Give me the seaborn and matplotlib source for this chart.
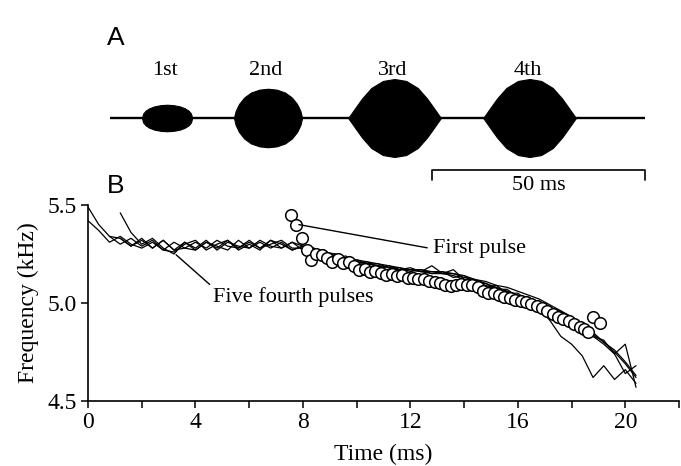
import numpy as np
import pandas as pd
import matplotlib
matplotlib.use("Agg")
import matplotlib.pyplot as plt
import seaborn as sns

# ---------------- data ----------------
# shared time grid (ms) for the five fourth pulses
T = [0.0, 0.4, 0.8, 1.2, 1.6, 2.0, 2.4, 2.8, 3.2, 3.6, 4.0, 4.4, 4.8, 5.2, 5.6,
     6.0, 6.4, 6.8, 7.2, 7.6, 8.0, 8.4, 8.8, 9.2, 9.6, 10.0, 10.4, 10.8, 11.2,
     11.6, 12.0, 12.4, 12.8, 13.2, 13.6, 14.0, 14.4, 14.8, 15.2, 15.6, 16.0,
     16.4, 16.8, 17.2, 17.6, 18.0, 18.4, 18.8, 19.2, 19.6, 20.0, 20.4]

fourth_1_start = 0
fourth_1 = [5.49, 5.40, 5.34,
            5.33, 5.29, 5.32, 5.28, 5.32, 5.27, 5.31, 5.28, 5.32, 5.27, 5.31, 5.29,
            5.28, 5.32, 5.29, 5.28, 5.31,
            5.29, 5.27, 5.26, 5.25, 5.23, 5.22, 5.21, 5.20, 5.19, 5.18, 5.17, 5.17,
            5.16, 5.16, 5.15, 5.13, 5.12, 5.10, 5.08, 5.06, 5.04, 5.02, 4.99, 4.97,
            4.94, 4.91, 4.88, 4.84, 4.80, 4.75, 4.69, 4.62]

fourth_2_start = 0
fourth_2 = [5.42, 5.37, 5.31,
            5.34, 5.30, 5.28, 5.31, 5.27, 5.31, 5.28, 5.27, 5.31, 5.28, 5.32, 5.28,
            5.31, 5.28, 5.32, 5.30, 5.27,
            5.29, 5.27, 5.26, 5.23, 5.23, 5.21, 5.20, 5.19, 5.18, 5.17, 5.17, 5.16,
            5.15, 5.15, 5.14, 5.12, 5.11, 5.09, 5.07, 5.06, 5.03, 5.01, 4.97, 4.91,
            4.83, 4.79, 4.73, 4.62, 4.68, 4.61, 4.66, 4.59]

fourth_3_start = 3
fourth_3 = [5.46, 5.36, 5.30, 5.33, 5.28, 5.25, 5.31, 5.27, 5.31, 5.29, 5.27, 5.32,
            5.28, 5.31, 5.28, 5.31, 5.27,
            5.29, 5.26, 5.27, 5.23, 5.24, 5.20, 5.21, 5.18, 5.19, 5.17, 5.18, 5.16,
            5.19, 5.15, 5.17, 5.12, 5.12, 5.08, 5.09, 5.05, 5.05, 5.01, 5.01, 4.96,
            4.96, 4.91, 4.88, 4.83, 4.81, 4.74, 4.79, 4.57]

fourth_4_start = 2
fourth_4 = [5.34, 5.30, 5.33, 5.29, 5.32, 5.27, 5.26, 5.30, 5.32, 5.27, 5.30, 5.32,
            5.27, 5.30, 5.27, 5.32, 5.28, 5.31,
            5.27, 5.28, 5.25, 5.25, 5.22, 5.22, 5.20, 5.20, 5.18, 5.18, 5.16, 5.17,
            5.15, 5.16, 5.13, 5.14, 5.10, 5.10, 5.07, 5.07, 5.03, 5.03, 4.99, 4.98,
            4.94, 4.92, 4.87, 4.83, 4.79, 4.74, 4.64, 4.68]

fourth_5_start = 3
fourth_5 = [5.33, 5.29, 5.33, 5.28, 5.32, 5.27, 5.28, 5.31, 5.28, 5.32, 5.29, 5.28,
            5.32, 5.28, 5.30, 5.32, 5.28,
            5.28, 5.28, 5.26, 5.24, 5.23, 5.21, 5.20, 5.19, 5.18, 5.17, 5.17, 5.16,
            5.16, 5.15, 5.15, 5.14, 5.12, 5.11, 5.09, 5.08, 5.06, 5.04, 5.02, 4.99,
            4.96, 4.93, 4.89, 4.85, 4.80, 4.76, 4.70, 4.63]

# first pulse (open circles)
first_t = [7.55, 7.75, 7.95, 8.15, 8.3, 8.5, 8.7, 8.9, 9.1, 9.3, 9.5, 9.7, 9.9,
           10.1, 10.3, 10.5, 10.7, 10.9, 11.1, 11.3, 11.5, 11.7, 11.9, 12.1, 12.3,
           12.5, 12.7, 12.9, 13.1, 13.3, 13.5, 13.7, 13.9, 14.1, 14.3, 14.5, 14.7,
           14.9, 15.1, 15.3, 15.5, 15.7, 15.9, 16.1, 16.3, 16.5, 16.7, 16.9, 17.1,
           17.3, 17.5, 17.7, 17.9, 18.1, 18.3, 18.45, 18.6, 18.8, 19.05]
first_f = [5.45, 5.40, 5.33, 5.27, 5.22, 5.25, 5.245, 5.23, 5.21, 5.225, 5.205,
           5.21, 5.19, 5.17, 5.175, 5.16, 5.165, 5.155, 5.145, 5.15, 5.14, 5.145,
           5.13, 5.13, 5.125, 5.12, 5.11, 5.105, 5.10, 5.09, 5.085, 5.09, 5.095,
           5.09, 5.09, 5.08, 5.06, 5.05, 5.05, 5.04, 5.03, 5.025, 5.015, 5.01,
           5.005, 4.995, 4.985, 4.975, 4.96, 4.945, 4.93, 4.92, 4.91, 4.895, 4.88,
           4.865, 4.85, 4.93, 4.90]

# panel A: pulse envelopes (time in ms, relative amplitude)
pulse_labels = ["1st", "2nd", "3rd", "4th"]
pulse_center = [13.4, 37.1, 66.8, 98.5]
pulse_halfwidth = [5.9, 8.0, 10.9, 10.9]
pulse_amp = [0.34, 0.75, 1.0, 1.0]
env_u = [-1.0, -0.95, -0.85, -0.7, -0.5, -0.25, 0.0, 0.25, 0.5, 0.7, 0.85, 0.95, 1.0]
env_shape = [
    [0.0, 0.34, 0.56, 0.74, 0.88, 0.97, 1.0, 0.97, 0.88, 0.74, 0.56, 0.34, 0.0],
    [0.0, 0.24, 0.48, 0.70, 0.87, 0.97, 1.0, 0.97, 0.87, 0.70, 0.48, 0.24, 0.0],
    [0.0, 0.08, 0.25, 0.50, 0.77, 0.95, 1.0, 0.95, 0.77, 0.50, 0.25, 0.08, 0.0],
    [0.0, 0.08, 0.25, 0.50, 0.77, 0.95, 1.0, 0.95, 0.77, 0.50, 0.25, 0.08, 0.0],
]
record_length = 125.6
scale_bar_ms = 50

# ---------------- build table ----------------
rows = []
for name, start, vals in [("p1", fourth_1_start, fourth_1),
                          ("p2", fourth_2_start, fourth_2),
                          ("p3", fourth_3_start, fourth_3),
                          ("p4", fourth_4_start, fourth_4),
                          ("p5", fourth_5_start, fourth_5)]:
    for t, f in zip(T[start:start + len(vals)], vals):
        rows.append({"pulse": name, "t": t, "f": f})
df = pd.DataFrame(rows)
df_first = pd.DataFrame({"t": first_t, "f": first_f})

# ---------------- style ----------------
sns.set_theme(style="ticks")
plt.rcParams["font.family"] = ["Liberation Serif", "DejaVu Serif"]
plt.rcParams["axes.linewidth"] = 1.2
plt.rcParams["xtick.major.width"] = 1.1
plt.rcParams["ytick.major.width"] = 1.1
plt.rcParams["xtick.color"] = "black"
plt.rcParams["ytick.color"] = "black"
plt.rcParams["xtick.labelcolor"] = "black"
plt.rcParams["ytick.labelcolor"] = "black"
plt.rcParams["axes.edgecolor"] = "black"
plt.rcParams["axes.labelcolor"] = "black"
plt.rcParams["text.color"] = "black"

W, H = 681, 466
fig = plt.figure(figsize=(W / 100, H / 100), dpi=100)

# ---------------- panel A ----------------
axA = fig.add_axes([110 / W, (H - 190) / H, 535 / W, 140 / H])
axA.set_xlim(0, record_length)
axA.set_ylim(-72 / 39, 68 / 39)
axA.axis("off")
axA.plot([0, record_length], [0, 0], color="black", lw=1.7, solid_capstyle="butt")
for lab, c, hw, a, shp in zip(pulse_labels, pulse_center, pulse_halfwidth,
                              pulse_amp, env_shape):
    u = np.linspace(-1, 1, 300)
    env = a * np.interp(u, env_u, shp)
    x = c + u * hw
    axA.fill_between(x, -env, env, color="black", lw=0.8, edgecolor="black")
    axA.text(c - 0.5, 1.23, lab, ha="center", va="center", fontsize=16)
sb0 = record_length - scale_bar_ms
axA.plot([sb0, sb0, record_length, record_length],
         [-1.59, -1.333, -1.333, -1.59], color="black", lw=1.2, clip_on=False)
axA.text(sb0 + scale_bar_ms / 2, -1.72, f"{scale_bar_ms} ms", ha="center",
         va="center", fontsize=16)

fig.text(107 / W, 1 - 38 / H, "A", ha="left", va="center", fontsize=19,
         family=["Liberation Sans", "DejaVu Sans"])
fig.text(107 / W, 1 - 186 / H, "B", ha="left", va="center", fontsize=19,
         family=["Liberation Sans", "DejaVu Sans"])

# ---------------- panel B ----------------
axB = fig.add_axes([88 / W, 65 / H, 591 / W, 196 / H])
sns.lineplot(data=df, x="t", y="f", units="pulse", estimator=None,
             color="black", lw=0.9, ax=axB, legend=False, sort=False)
sns.scatterplot(data=df_first, x="t", y="f", ax=axB, s=70, facecolor="white",
                edgecolor="black", linewidth=1.1, zorder=3, legend=False)

axB.set_xlim(0, 22)
axB.set_ylim(4.5, 5.5)
axB.set_xticks(np.arange(0, 23, 2))
axB.set_xticklabels([str(v) if v % 4 == 0 else "" for v in range(0, 23, 2)])
axB.set_yticks([4.5, 5.0, 5.5])
axB.set_yticklabels(["4.5", "5.0", "5.5"])
axB.tick_params(direction="out", length=5, labelsize=17, pad=3)
sns.despine(ax=axB)
axB.set_xlabel("Time (ms)", fontsize=17, labelpad=8)
axB.set_ylabel("Frequency (kHz)", fontsize=17, labelpad=6)

axB.annotate("First pulse", xy=(7.85, 5.40), xytext=(12.85, 5.276),
             ha="left", va="center", fontsize=16,
             arrowprops=dict(arrowstyle="-", color="black", lw=1.0,
                             shrinkA=2, shrinkB=0, relpos=(0, 0.5)))
axB.annotate("Five fourth pulses", xy=(3.28, 5.246), xytext=(4.65, 5.03),
             ha="left", va="center", fontsize=16,
             arrowprops=dict(arrowstyle="-", color="black", lw=1.0,
                             shrinkA=0, shrinkB=0, relpos=(0.02, 0.85)))

fig.savefig("out.png", dpi=100)
